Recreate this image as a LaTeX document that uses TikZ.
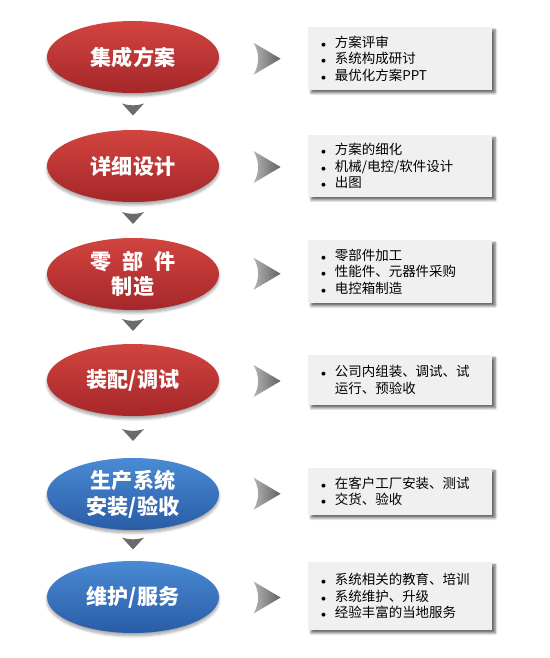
\documentclass[tikz,border=0pt]{standalone}
\usepackage{fontspec}
\setmainfont{Noto Sans CJK SC}
\usetikzlibrary{shapes.geometric,shadows.blur,calc}

\definecolor{redtop}{HTML}{D2443F}
\definecolor{redbot}{HTML}{A5272A}
\definecolor{bluetop}{HTML}{4A8AD4}
\definecolor{bluebot}{HTML}{2A5CA6}
\definecolor{boxgray}{HTML}{F0F0F0}
\newcommand\itm{\makebox[.45cm][l]{\hspace{1pt}$\scriptstyle\bullet$}}

\tikzset{
  phase/.style={ellipse,minimum width=5.16cm,minimum height=2.16cm,inner sep=0pt,
    text=white,align=center,font=\fontsize{18}{22}\selectfont\bfseries,
    blur shadow={shadow xshift=0pt,shadow yshift=-2.5pt,shadow blur steps=8,shadow opacity=35}},
  redphase/.style={phase,top color=redtop,bottom color=redbot},
  bluephase/.style={phase,top color=bluetop,bottom color=bluebot},
  notebox/.style={anchor=west,fill=boxgray,minimum width=5.52cm,text width=4.82cm,
    inner xsep=.35cm,inner ysep=0pt,align=left,font=\fontsize{11.5}{14.2}\selectfont,
    blur shadow={shadow xshift=2.5pt,shadow yshift=-2.5pt,shadow blur steps=5,shadow opacity=60}},
  downtip/.pic={\fill[black!58] (-11,-6) .. controls (-3,-3.5) and (3,-3.5) .. (11,-6) -- (0,6) -- cycle;},
  righttip/.pic={\shade[left color=black!30,right color=black!62] (-13,-16) -- (14,0) -- (-13,16) .. controls (-7,5) and (-7,-5) .. (-13,-16) -- cycle;}
}

\begin{document}
\begin{tikzpicture}[x=.03cm,y=-.03cm]
\useasboundingbox (0,0) rectangle (550,658);
\node[redphase] (e1) at (133,57) {集成方案};
\node[redphase] (e2) at (133,166) {详细设计};
\node[redphase] (e3) at (133,274) {零\hspace{.5em}部\hspace{.5em}件\\制造};
\node[redphase] (e4) at (133,380) {装配/调试};
\node[bluephase] (e5) at (133,494) {生产系统\\安装/验收};
\node[bluephase] (e6) at (133,597) {维护/服务};
\node[notebox,minimum height=1.89cm] (b1) at (308,58.5) {\itm 方案评审\\\itm 系统构成研讨\\\itm 最优化方案PPT};
\node[notebox,minimum height=1.86cm] (b2) at (308,166) {\itm 方案的细化\\\itm 机械/电控/软件设计\\\itm 出图};
\node[notebox,minimum height=1.89cm] (b3) at (308,271.5) {\itm 零部件加工\\\itm 性能件、元器件采购\\\itm 电控箱制造};
\node[notebox,minimum height=1.5cm] (b4) at (308,380) {\itm 公司内组装、调试、试\\\hspace*{.45cm}运行、预验收};
\node[notebox,minimum height=1.41cm] (b5) at (308,491.5) {\itm 在客户工厂安装、测试\\\itm 交货、验收};
\node[notebox,minimum height=2.04cm] (b6) at (308,596) {\itm 系统相关的教育、培训\\\itm 系统维护、升级\\\itm 经验丰富的当地服务};
\foreach \a/\b in {e1/e2,e2/e3,e3/e4,e4/e5,e5/e6}
  \pic at ($(\a.south)!.5!(\b.north)+(0,-2)$) {downtip};
\foreach \n in {1,...,6}
  \pic at ($(e\n.east)!.5!(b\n.west)+(3,1)$) {righttip};
\end{tikzpicture}
\end{document}
